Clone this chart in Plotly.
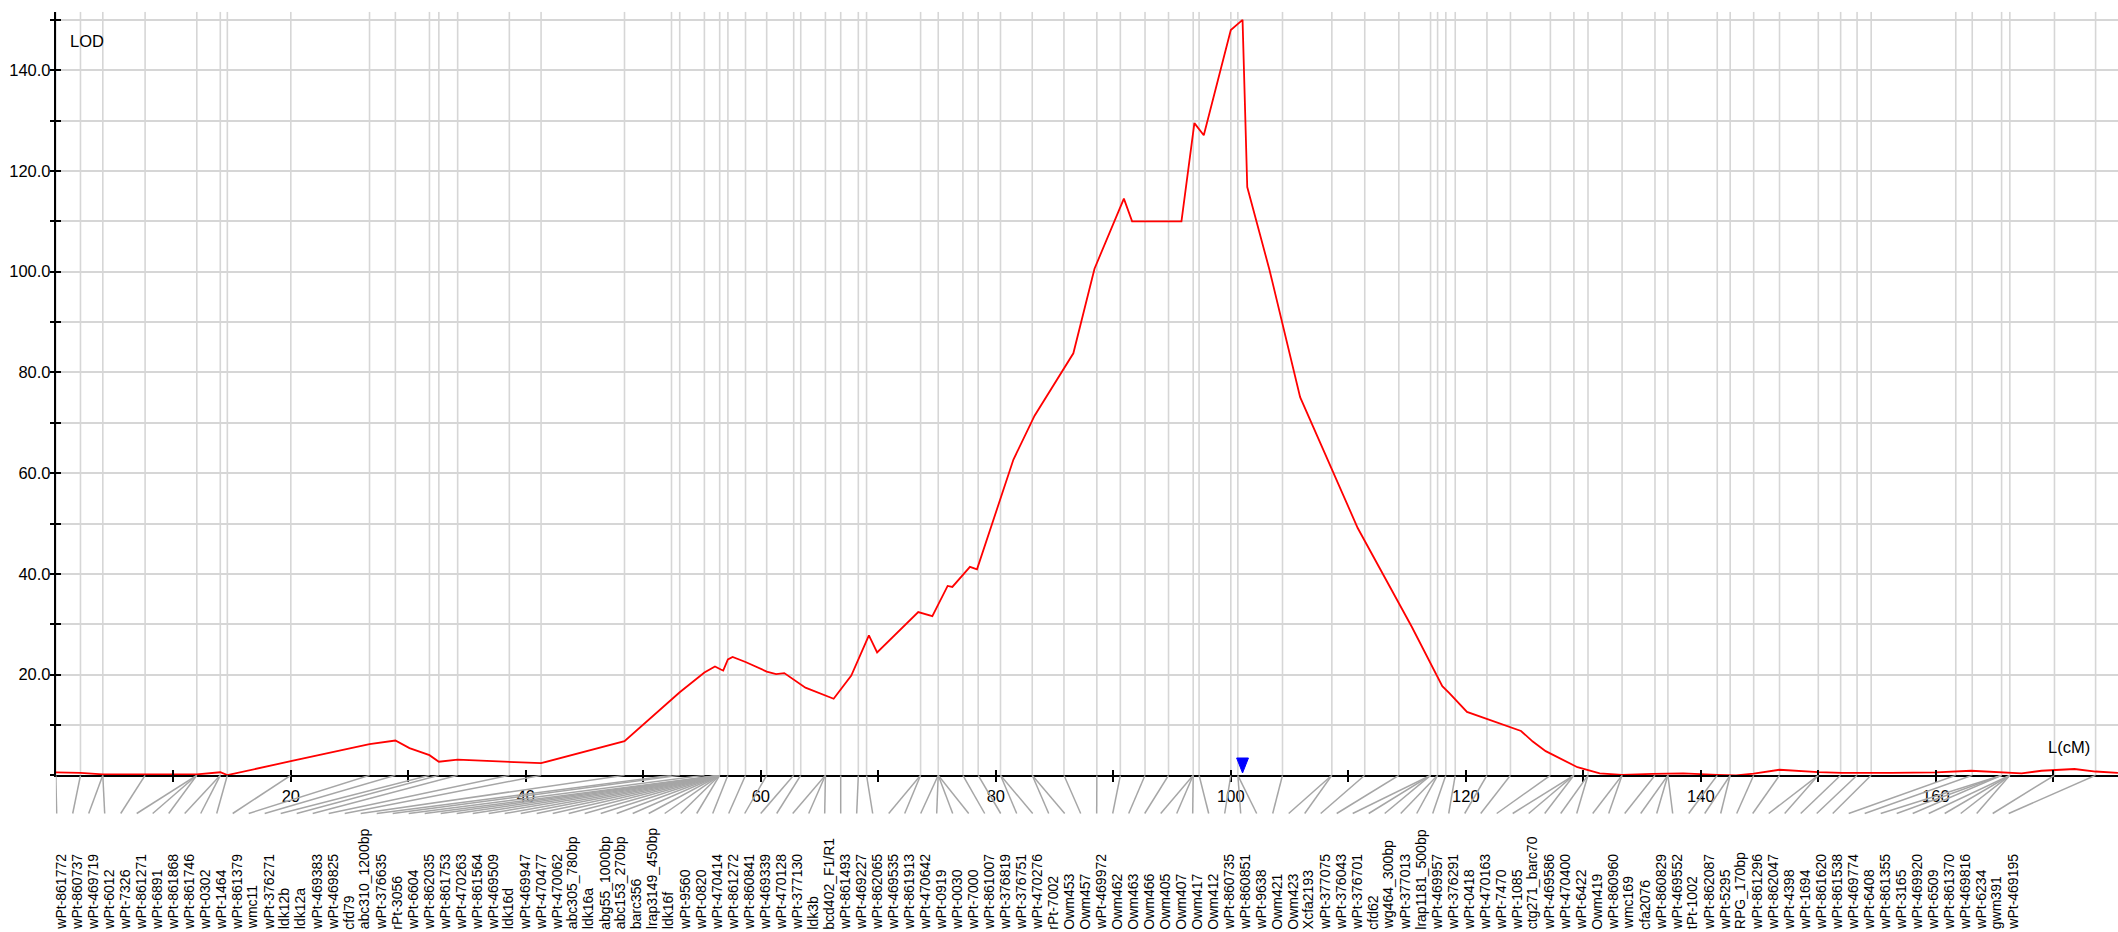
import plotly.graph_objects as go

# ---------------- data ----------------
marker_names = [
    "wPt-861772", "wPt-860737", "wPt-469719", "wPt-6012", "wPt-7326", "wPt-861271",
    "wPt-6891", "wPt-861868", "wPt-861746", "wPt-0302", "wPt-1464", "wPt-861379",
    "wmc11", "wPt-376271", "ldk12b", "ldk12a", "wPt-469383", "wPt-469825", "cfd79",
    "abc310_1200bp", "wPt-376635", "rPt-3056", "wPt-6604", "wPt-862035", "wPt-861753",
    "wPt-470263", "wPt-861564", "wPt-469509", "ldk16d", "wPt-469947", "wPt-470477",
    "wPt-470062", "abc305_780bp", "ldk16a", "abg55_1000bp", "abc153_270bp", "barc356",
    "lrap3149_450bp", "ldk16f", "wPt-9560", "wPt-0820", "wPt-470414", "wPt-861272",
    "wPt-860841", "wPt-469339", "wPt-470128", "wPt-377130", "ldk3b", "bcd402_F1/R1",
    "wPt-861493", "wPt-469227", "wPt-862065", "wPt-469535", "wPt-861913", "wPt-470642",
    "wPt-0919", "wPt-0030", "wPt-7000", "wPt-861007", "wPt-376819", "wPt-376751",
    "wPt-470276", "rPt-7002", "Owm453", "Owm457", "wPt-469972", "Owm462", "Owm463",
    "Owm466", "Owm405", "Owm407", "Owm417", "Owm412", "wPt-860735", "wPt-860851",
    "wPt-9638", "Owm421", "Owm423", "Xcfa2193", "wPt-377075", "wPt-376043", "wPt-376701",
    "cfd62", "wg464_300bp", "wPt-377013", "lrap1181_500bp", "wPt-469957", "wPt-376291",
    "wPt-0418", "wPt-470163", "wPt-7470", "wPt-1085", "ctg271_barc70", "wPt-469586",
    "wPt-470400", "wPt-6422", "Owm419", "wPt-860960", "wmc169", "cfa2076", "wPt-860829",
    "wPt-469552", "tPt-1002", "wPt-862087", "wPt-5295", "RPG_170bp", "wPt-861296",
    "wPt-862047", "wPt-4398", "wPt-1694", "wPt-861620", "wPt-861538", "wPt-469774",
    "wPt-6408", "wPt-861355", "wPt-3165", "wPt-469920", "wPt-6509", "wPt-861370",
    "wPt-469816", "wPt-6234", "gwm391", "wPt-469195",
]

marker_pos = [
    0.0, 2.1, 4.0, 4.0, 7.6, 12.0, 12.0, 12.0, 14.0, 14.0, 14.6, 20.0,
    26.7, 28.9, 31.8, 32.6, 34.2, 38.6, 41.3, 48.4, 52.4, 53.1, 55.2,
    56.5, 56.5, 56.5, 56.5, 56.5, 56.5, 56.5, 56.5, 56.5, 56.5, 56.5, 56.5,
    56.5, 56.5, 56.5, 56.5, 56.5, 56.5,
    57.2, 58.7, 60.5, 62.8, 63.4, 65.5, 65.5, 65.5, 66.8, 68.3, 69.0,
    73.6, 73.6, 75.1, 75.1, 75.1, 75.1, 77.2, 78.5, 80.4, 80.4, 83.1, 83.1,
    85.8, 88.6, 90.6, 92.7, 94.7, 96.8, 96.8, 96.8, 97.3, 100.0, 100.6, 100.6,
    104.4, 108.6, 108.6, 111.4, 114.3, 117.0, 117.0, 117.0, 117.6, 117.6, 118.3,
    119.1, 121.8, 123.8, 127.2, 129.2, 129.2, 129.2, 130.4, 130.4, 133.3, 133.3,
    136.1, 137.2, 137.2, 137.2, 141.4, 142.5, 142.5, 144.5, 146.7, 150.0, 150.0,
    151.9, 153.3, 154.5, 161.7, 163.1, 165.6, 165.6, 165.6, 166.3, 166.3, 166.3,
    166.3, 170.1, 173.6,
]

lod_pos = [
    0.0, 2.1, 4.0, 7.6, 12.0, 14.0, 14.6, 20.0, 26.7, 28.9, 30.1, 31.8, 32.6, 34.2,
    38.6, 41.3, 48.4, 52.4, 53.1, 55.2, 56.1, 56.6, 56.8, 57.2, 57.6, 58.7, 60.5,
    61.3, 62.0, 63.8, 66.2, 67.7, 69.2, 69.9, 73.4, 74.6, 75.9, 76.3, 77.8, 78.4,
    81.5, 83.3, 86.6, 88.4, 90.9, 91.6, 95.8, 96.9, 97.7, 100.0, 101.0, 101.4,
    103.3, 105.9, 110.8, 115.4, 118.0, 118.6, 120.1, 124.7, 125.7, 126.8, 128.3,
    129.5, 131.4, 133.3, 135.9, 138.5, 141.4, 143.0, 144.5, 146.7, 150.0, 152.0,
    156.2, 160.0, 163.0, 166.3, 167.3, 169.0, 171.8, 173.6, 175.5,
]
lod_val = [
    0.6, 0.5, 0.2, 0.2, 0.2, 0.6, 0.05, 2.8, 6.2, 6.9, 5.4, 4.0, 2.7, 3.1,
    2.7, 2.4, 6.8, 15.0, 16.5, 20.4, 21.6, 21.0, 20.8, 23.0, 23.5, 22.5, 20.6,
    20.1, 20.3, 17.4, 15.2, 19.8, 27.8, 24.4, 32.4, 31.6, 37.6, 37.4, 41.4, 40.9,
    62.7, 71.4, 83.8, 100.6, 114.5, 110.0, 110.0, 129.5, 127.1, 148.0, 150.0, 116.8,
    100.3, 75.1, 49.1, 29.5, 17.7, 16.3, 12.6, 8.8, 6.7, 4.8, 3.0,
    1.6, 0.4, 0.1, 0.3, 0.4, 0.1, 0.0, 0.35, 1.1, 0.65, 0.5,
    0.5, 0.6, 0.9, 0.6, 0.4, 0.9, 1.25, 0.75, 0.5,
]

peak_pos = 101.0
x_tick_vals = [10, 20, 30, 40, 50, 60, 70, 80, 90, 100, 110, 120, 130, 140, 150, 160, 170]
x_tick_labels = ["", "20", "", "40", "", "60", "", "80", "", "100", "", "120", "", "140", "", "160", ""]
y_tick_vals = [0, 10, 20, 30, 40, 50, 60, 70, 80, 90, 100, 110, 120, 130, 140, 150]
y_tick_labels = ["", "", "20.0", "", "40.0", "", "60.0", "", "80.0", "", "100.0", "",
                 "120.0", "", "140.0", ""]

# ---------------- layout geometry (pixels) ----------------
W, H = 2118, 932
X0_PX = 55.8          # pixel of 0 cM
PX_PER_CM = 11.75
AXIS_PX = 775.3       # pixel row of LOD 0
TOP_PX = 11.7
PX_PER_LOD = 5.036
SLOT0_PX = 56.7
SLOT_STEP = 16.0

xmax = (W - X0_PX) / PX_PER_CM
ymax = (AXIS_PX - TOP_PX) / PX_PER_LOD
x0f = X0_PX / W
y0f = (H - AXIS_PX) / H
y1f = (H - TOP_PX) / H
below = H - AXIS_PX

FONT = "Liberation Sans, Arial, sans-serif"
GRID = "#d6d6d6"
CONN = "#a6a6a6"

fig = go.Figure()

# vertical marker lines
uniq = sorted(set(marker_pos))
vx, vy = [], []
for p in uniq:
    vx += [p, p, None]
    vy += [0, ymax, None]
fig.add_trace(go.Scatter(x=vx, y=vy, mode="lines", line=dict(color=GRID, width=1.6),
                         hoverinfo="skip", showlegend=False, xaxis="x", yaxis="y"))

# LOD curve
fig.add_trace(go.Scatter(x=lod_pos, y=lod_val, mode="lines",
                         line=dict(color="#ff0000", width=1.8),
                         showlegend=False, xaxis="x", yaxis="y", cliponaxis=False))

# peak triangle
hw = 5.9 / PX_PER_CM
ytop = (AXIS_PX - 758) / PX_PER_LOD
ytip = (AXIS_PX - 773) / PX_PER_LOD
fig.add_trace(go.Scatter(x=[peak_pos - hw, peak_pos + hw, peak_pos, peak_pos - hw],
                         y=[ytop, ytop, ytip, ytop], mode="lines", fill="toself",
                         fillcolor="#0000ff", line=dict(color="#0000ff", width=1),
                         showlegend=False, hoverinfo="skip", xaxis="x", yaxis="y"))

# connectors + labels
cx, cy = [], []
annotations = []
for i, (name, p) in enumerate(zip(marker_names, marker_pos)):
    slot_cm = (SLOT0_PX + i * SLOT_STEP - X0_PX) / PX_PER_CM
    cx += [p, slot_cm, None]
    cy += [0, -(813.5 - AXIS_PX), None]
    annotations.append(dict(
        x=slot_cm + 3.5 / PX_PER_CM, y=-(930.5 - AXIS_PX), xref="x2", yref="y2",
        text=name, textangle=-90, showarrow=False, xanchor="center", yanchor="bottom",
        font=dict(family=FONT, size=14, color="#000000"), borderpad=0))
fig.add_trace(go.Scatter(x=cx, y=cy, mode="lines", line=dict(color=CONN, width=1.5),
                         hoverinfo="skip", showlegend=False, xaxis="x2", yaxis="y2",
                         cliponaxis=False))

# dummy trace for overlay axes (ticks on the other side)
fig.add_trace(go.Scatter(x=[], y=[], xaxis="x3", yaxis="y3", showlegend=False))

annotations.append(dict(x=68 / W, y=1 - 40.5 / H, xref="paper", yref="paper", text="LOD",
                        showarrow=False, xanchor="left", yanchor="middle",
                        font=dict(family=FONT, size=16.5, color="#000000")))
annotations.append(dict(x=2046 / W, y=1 - 746.5 / H, xref="paper", yref="paper", text="L(cM)",
                        showarrow=False, xanchor="left", yanchor="middle",
                        font=dict(family=FONT, size=16.5, color="#000000")))

tickfont = dict(family=FONT, size=16.5, color="#000000")
fig.update_layout(
    width=W, height=H, margin=dict(l=0, r=0, t=0, b=0, pad=0),
    paper_bgcolor="white", plot_bgcolor="white",
    xaxis=dict(domain=[x0f, 1], range=[0, xmax], anchor="y", showline=True,
               linecolor="black", linewidth=2, ticks="outside", ticklen=5, tickwidth=2,
               tickcolor="black", tickmode="array", tickvals=x_tick_vals,
               ticktext=x_tick_labels, showgrid=False, zeroline=False, tickfont=tickfont),
    yaxis=dict(domain=[y0f, y1f], range=[0, ymax], anchor="x", showline=True,
               linecolor="black", linewidth=2, ticks="inside", ticklen=5, tickwidth=2,
               tickcolor="black", tickmode="array", tickvals=y_tick_vals,
               ticktext=y_tick_labels, showgrid=True, gridcolor=GRID, gridwidth=1.6,
               zeroline=False, tickfont=tickfont),
    xaxis3=dict(overlaying="x", range=[0, xmax], anchor="y3", showline=False,
                ticks="inside", ticklen=5, tickwidth=2, tickcolor="black",
                tickmode="array", tickvals=x_tick_vals, showticklabels=False,
                showgrid=False, zeroline=False),
    yaxis3=dict(overlaying="y", range=[0, ymax], anchor="x3", showline=False,
                ticks="outside", ticklen=5, tickwidth=2, tickcolor="black",
                tickmode="array", tickvals=y_tick_vals, showticklabels=False,
                showgrid=False, zeroline=False),
    xaxis2=dict(domain=[x0f, 1], range=[0, xmax], anchor="y2", visible=False),
    yaxis2=dict(domain=[0, y0f], range=[-below, 0], anchor="x2", visible=False),
    annotations=annotations,
    showlegend=False,
)

fig.write_html("out.html")
